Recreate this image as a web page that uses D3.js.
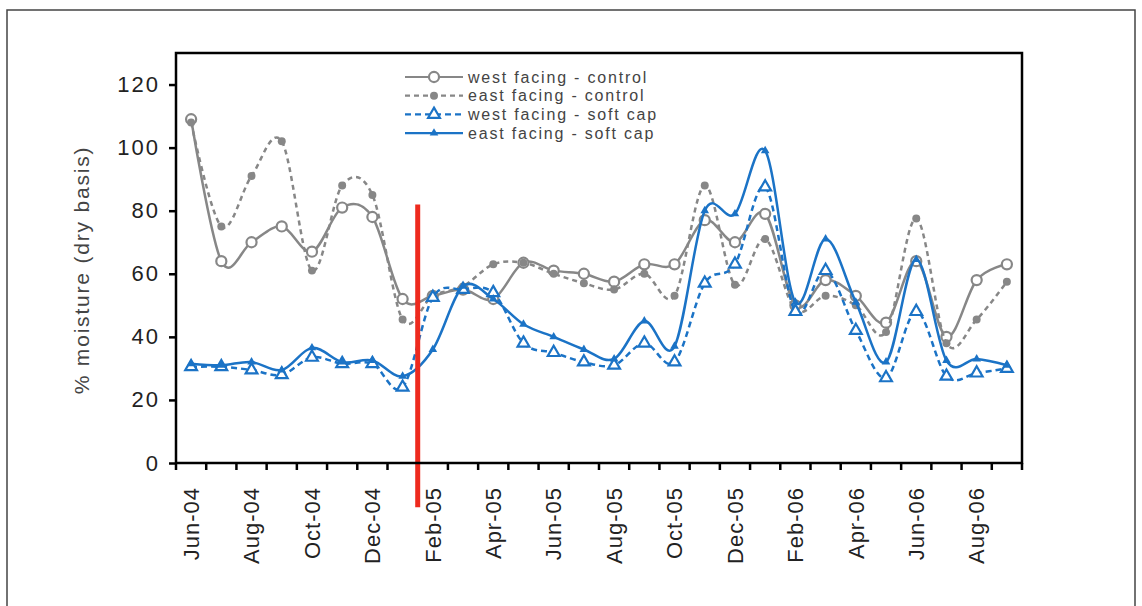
<!DOCTYPE html>
<html>
<head>
<meta charset="utf-8">
<script src="https://cdn.jsdelivr.net/npm/d3@7"></script>
<style>
body { margin: 0; background: #fff; }
svg { display: block; font-family: Arial, "Liberation Sans", sans-serif; }
</style>
</head>
<body>
<svg id="chart" width="1142" height="606"></svg>
<script>
const months = ['Jun-04', 'Jul-04', 'Aug-04', 'Sep-04', 'Oct-04', 'Nov-04', 'Dec-04', 'Jan-05', 'Feb-05', 'Mar-05',
  'Apr-05', 'May-05', 'Jun-05', 'Jul-05', 'Aug-05', 'Sep-05', 'Oct-05', 'Nov-05', 'Dec-05', 'Jan-06',
  'Feb-06', 'Mar-06', 'Apr-06', 'May-06', 'Jun-06', 'Jul-06', 'Aug-06', 'Sep-06'];
const tickMonths = ['Jun-04', 'Aug-04', 'Oct-04', 'Dec-04', 'Feb-05', 'Apr-05', 'Jun-05', 'Aug-05', 'Oct-05', 'Dec-05',
  'Feb-06', 'Apr-06', 'Jun-06', 'Aug-06'];
const yTicks = [0, 20, 40, 60, 80, 100, 120];

const westControl = [109, 64, 70, 75, 67, 81, 78, 52, 53, 55, 52, 63.5, 61, 60, 57.5, 63, 63, 77, 70, 79, 50, 58, 53, 44.5, 64, 40, 58, 63];
const eastControl = [108, 75, 91, 102, 61, 88, 85, 45.5, 53, 56, 63, 63.5, 60, 57, 55, 60, 53, 88, 56.5, 71, 48.5, 53, 50, 41.5, 77.5, 38, 45.5, 57.5];
const westSoftCap = [30.5, 30.5, 29.5, 28, 33.5, 31.5, 31.5, 24, 52.5, 55, 54, 38, 35, 32, 31, 38, 32, 57, 63, 87.5, 48, 61, 42, 27, 48, 27.5, 28.5, 30];
const eastSoftCap = [31.5, 31, 32, 29.5, 36.5, 32, 32.5, 27.5, 36, 56, 52, 44, 40, 36, 33, 45, 37, 80, 79, 99, 51, 71, 51, 32, 64.5, 32.5, 33, 31];

// capping date sits between Jan-05 and Feb-05
const capMonth = 'Feb-05';
const capRange = [-14, 82];

const gray = '#878787';
const blue = '#1b73c6';

const series = [
  { name: 'west facing - control', values: westControl, color: gray, dash: null, marker: 'circleOpen' },
  { name: 'east facing - control', values: eastControl, color: gray, dash: '5,4', marker: 'circleFilled' },
  { name: 'west facing - soft cap', values: westSoftCap, color: blue, dash: '6,4', marker: 'triOpen' },
  { name: 'east facing - soft cap', values: eastSoftCap, color: blue, dash: null, marker: 'triFilled' },
];

const svg = d3.select('#chart');
const W = 1142, H = 606;
const plot = { left: 176, right: 1022, top: 53, bottom: 463 };

svg.append('rect').attr('width', W).attr('height', H).attr('fill', '#fff');
svg.append('path').attr('d', `M7,${H}V10H1135V${H}`).attr('fill', 'none').attr('stroke', '#444').attr('stroke-width', 1.5);

const x = d3.scaleBand(months, [plot.left, plot.right]);
const y = d3.scaleLinear([0, 130], [plot.bottom, plot.top]);

// y axis
const yAxis = svg.append('g').attr('transform', `translate(${plot.left},0)`)
  .call(d3.axisLeft(y).tickValues(yTicks).tickSize(7).tickSizeOuter(0).tickPadding(9));
yAxis.select('.domain').remove();
yAxis.selectAll('line').attr('stroke', '#000').attr('stroke-width', 2.5);
yAxis.selectAll('text').attr('font-size', 22).attr('fill', '#222').style('letter-spacing', '2px').attr('font-family', null);

// x axis: ticks on category boundaries, labels at centres of every other month
const xEdges = months.map((m) => x(m)).concat([x.range()[1]]);
svg.append('g').selectAll('line').data(xEdges).join('line')
  .attr('x1', (d) => d).attr('x2', (d) => d)
  .attr('y1', plot.bottom).attr('y2', plot.bottom + 7)
  .attr('stroke', '#000').attr('stroke-width', 2.5);
const xAxis = svg.append('g').attr('transform', `translate(0,${plot.bottom})`)
  .call(d3.axisBottom(x).tickValues(tickMonths).tickSize(0));
xAxis.select('.domain').remove();
xAxis.selectAll('text')
  .attr('font-size', 22).attr('fill', '#222').attr('font-family', null)
  .style('letter-spacing', '1px')
  .attr('transform', 'rotate(-90)')
  .attr('text-anchor', 'end')
  .attr('x', -24).attr('y', 0).attr('dy', '0.35em');

// y title
svg.append('text')
  .attr('transform', `translate(81,270) rotate(-90)`)
  .attr('text-anchor', 'middle').attr('dominant-baseline', 'central')
  .attr('font-size', 21).attr('fill', '#444').style('letter-spacing', '1.8px')
  .text('% moisture (dry basis)');

function marker(sel, kind, color) {
  if (kind === 'circleOpen') {
    sel.attr('d', d3.symbol(d3.symbolCircle, 80)).attr('fill', '#fff').attr('stroke', color).attr('stroke-width', 2.2);
  } else if (kind === 'circleFilled') {
    sel.attr('d', d3.symbol(d3.symbolCircle, 50)).attr('fill', color).attr('stroke', 'none');
  } else if (kind === 'triOpen') {
    sel.attr('d', d3.symbol(d3.symbolTriangle, 60)).attr('fill', '#fff').attr('stroke', color).attr('stroke-width', 2.2);
  } else {
    sel.attr('d', d3.symbol(d3.symbolTriangle, 32)).attr('fill', color).attr('stroke', 'none');
  }
}

const line = d3.line()
  .x((d, i) => x(months[i]) + x.bandwidth() / 2)
  .y((d) => y(d))
  .curve(d3.curveCatmullRom.alpha(0));

const g = svg.append('g');
series.forEach((s) => {
  g.append('path').datum(s.values)
    .attr('d', line)
    .attr('fill', 'none')
    .attr('stroke', s.color).attr('stroke-width', 2.5)
    .attr('stroke-dasharray', s.dash);
  g.append('g').selectAll('path').data(s.values).join('path')
    .attr('transform', (d, i) => `translate(${x(months[i]) + x.bandwidth() / 2},${y(d)})`)
    .call(marker, s.marker, s.color);
});

// capping marker
svg.append('line')
  .attr('x1', x(capMonth)).attr('x2', x(capMonth))
  .attr('y1', y(capRange[1])).attr('y2', y(capRange[0]))
  .attr('stroke', '#ee2a1e').attr('stroke-width', 5);

// plot frame
svg.append('rect')
  .attr('x', plot.left).attr('y', plot.top)
  .attr('width', plot.right - plot.left).attr('height', plot.bottom - plot.top)
  .attr('fill', 'none').attr('stroke', '#000').attr('stroke-width', 2.5);

// legend
const legend = svg.append('g').attr('transform', 'translate(405,77)');
series.forEach((s, i) => {
  const row = legend.append('g').attr('transform', `translate(0,${i * 18.7})`);
  row.append('line').attr('x1', 0).attr('x2', 58).attr('y1', 0).attr('y2', 0)
    .attr('stroke', s.color).attr('stroke-width', 2.2).attr('stroke-dasharray', s.dash);
  row.append('path').attr('transform', 'translate(29,0)').call(marker, s.marker, s.color);
  row.append('text').attr('x', 63).attr('y', 0).attr('dy', '0.35em')
    .attr('font-size', 16).attr('fill', '#444').style('letter-spacing', '1.8px')
    .text(s.name);
});
</script>
</body>
</html>
